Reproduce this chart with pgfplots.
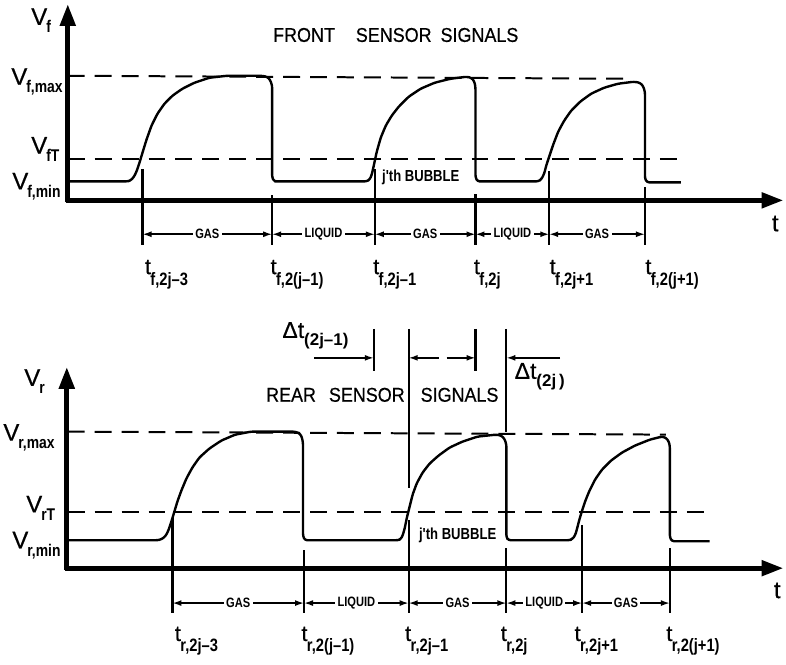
\documentclass[border=0pt]{standalone}
\usepackage{fontspec}
\setmainfont{Liberation Sans}
\newfontfamily\narrowfont{Liberation Sans}[FakeStretch=0.82]
\newfontfamily\heavyfont{Liberation Sans}[FakeBold=0.5]
\newfontfamily\titlefont{Liberation Sans}[FakeStretch=0.9, FakeBold=0.5]
\usepackage{pgfplots}
\pgfplotsset{compat=1.18}
\usetikzlibrary{arrows.meta}

% time-instant label: t with a low, narrow subscript
\newcommand{\tlab}[1]{{\fontsize{11}{10}\heavyfont t}\kern-0.3pt\raisebox{-5.5pt}{\fontsize{9}{9}\narrowfont\bfseries #1}}
% voltage-level label
\newcommand{\vlab}[2]{{\fontsize{12}{11}\heavyfont #1}\kern-0.5pt\raisebox{-4pt}{\fontsize{8.5}{8}\narrowfont\bfseries #2}}
% time-shift label
\newcommand{\dlab}[1]{{\fontsize{11.5}{11}\heavyfont Δt}\raisebox{-4pt}{\fontsize{8.5}{8}\bfseries #1}}

\tikzset{
  sig/.style={black, line width=1.2pt, rounded corners=1.2pt, line join=round},
  lvl/.style={black, line width=1pt, dash pattern=on 8.5pt off 5pt},
  mk/.style={black, line width=1.1pt},
  dim/.style={line width=0.8pt, {Latex[length=4.5pt,width=3pt]}-{Latex[length=4.5pt,width=3pt]}},
  one/.style={line width=0.8pt, -{Latex[length=4.5pt,width=3pt]}},
  seg/.style={midway, fill=white, inner xsep=1.2pt, inner ysep=0.5pt, font=\fontsize{6.8}{6}\narrowfont\bfseries},
  lab/.style={inner sep=0pt, anchor=base west},
  ttl/.style={inner sep=0pt, anchor=base, font=\fontsize{10}{10}\titlefont},
  ax/.style={line width=2.5pt, -{Triangle[length=11pt,width=7.5pt]}},
}

\begin{document}
\begin{tikzpicture}
\begin{axis}[
  x=0.5pt, y=0.5pt,
  xmin=0, xmax=786, ymin=0, ymax=667,
  y dir=reverse,
  scale only axis, hide axis, clip=false,
]
% canvas extent
\addplot[draw=none, no markers] coordinates {(0,0) (786,667)};

% ---------------- front sensor ----------------
\draw[ax] (68,203) -- (68,4);
\draw[ax] (66,201) -- (786,201);

\addplot[lvl, no markers] coordinates {(68,76) (625,79)};
\addplot[lvl, no markers] coordinates {(68,160) (683,160)};

\addplot[sig, no markers] coordinates {
(68,182) (128,182) (131,181) (134,178) (137,172) (140,163) (143,153) (147,140) (152,126) (158,114) (165,104) (173,96) (183,89) (195,83) (210,78) (228,76) (262,76) (268,77) (271,80) (273,86) (273,178) (275,182) (278,182)
(368,182) (371,180) (373,175) (375,166) (378,152) (382,138) (387,126) (393,116) (400,107) (410,97) (422,89) (436,83) (452,79) (468,77) (473,78) (476,82) (477,88) (477,178) (479,182) (483,182)
(540,182) (543,180) (546,174) (548,166) (551,157) (555,145) (560,132) (566,121) (573,111) (582,102) (593,94) (606,88) (620,84) (636,82) (642,83) (645,86) (647,92) (647,179) (649,183) (683,183)
};

\draw[mk] (143,170) -- (143,246);
\draw[mk] (273,196) -- (273,246);
\draw[mk] (376,170) -- (376,246);
\draw[mk] (477,195) -- (477,246);
\draw[mk] (551,172) -- (551,246);
\draw[mk] (647,188) -- (647,246);

\draw[dim] (143,235) -- node[seg]{GAS} (273,235);
\draw[dim] (273,235) -- node[seg]{LIQUID} (376,235);
\draw[dim] (376,235) -- node[seg]{GAS} (477,235);
\draw[dim] (477,235) -- node[seg]{LIQUID} (551,235);
\draw[dim] (551,235) -- node[seg]{GAS} (647,235);

\node[ttl] at (305,42) {FRONT};
\node[ttl] at (395,42) {SENSOR};
\node[ttl] at (481,42) {SIGNALS};
\node[lab, font=\fontsize{8}{7}\narrowfont\bfseries] at (383,182) {j'th BUBBLE};

\node[lab] at (31,25) {\vlab{V}{f}};
\node[lab] at (11,85) {\vlab{V}{f,max}};
\node[lab] at (31,154) {\vlab{V}{fT}};
\node[lab] at (12,190) {\vlab{V}{f,min}};
\node[lab, font=\fontsize{12}{11}\heavyfont] at (774,232) {t};

\node[lab] at (145,275) {\tlab{f,2j–3}};
\node[lab] at (271,275) {\tlab{f,2(j–1)}};
\node[lab] at (374,275) {\tlab{f,2j–1}};
\node[lab] at (475,275) {\tlab{f,2j}};
\node[lab] at (551,275) {\tlab{f,2j+1}};
\node[lab] at (647,275) {\tlab{f,2(j+1)}};

% ---------------- time shifts ----------------
\node[lab] at (283,339) {\dlab{(2j–1)}};
\draw[one] (315,359) -- (375,359);
\draw[mk] (375,330) -- (375,372);
\draw[mk] (410,330) -- (410,490);
\draw[one] (440,359) -- (410,359);
\draw[one] (448,359) -- (477,359);
\draw[mk] (477,330) -- (477,372);
\draw[mk] (508,330) -- (508,433);
\draw[one] (562,359) -- (508,359);
\node[lab] at (516,380) {\dlab{(2j\,)}};

% ---------------- rear sensor ----------------
\draw[ax] (67,572) -- (67,368);
\draw[ax] (65,570) -- (786,570);

\addplot[lvl, no markers] coordinates {(68,433) (668,436)};
\addplot[lvl, no markers] coordinates {(68,514) (706,514)};

\addplot[sig, no markers] coordinates {
(68,542) (158,542) (162,541) (166,538) (169,532) (172,523) (175,513) (178,503) (182,492) (187,480) (193,469) (200,459) (210,450) (222,442) (236,436) (252,433) (296,433) (301,435) (303,439) (304,445) (304,538) (306,542) (310,542)
(399,542) (402,541) (404,537) (406,530) (408,520) (411,508) (414,496) (418,485) (424,474) (431,465) (440,457) (451,449) (464,443) (479,438) (498,436) (503,437) (506,440) (508,446) (508,539) (510,542) (514,542)
(571,542) (574,541) (577,537) (579,530) (581,522) (584,512) (587,503) (591,493) (597,481) (604,471) (613,462) (624,454) (637,447) (652,441) (664,438) (668,439) (671,443) (672,448) (672,539) (674,543) (712,543)
};

\draw[mk] (173,520) -- (173,615);
\draw[mk] (305,552) -- (305,615);
\draw[mk] (410,522) -- (410,615);
\draw[mk] (508,550) -- (508,615);
\draw[mk] (584,527) -- (584,615);
\draw[mk] (672,550) -- (672,615);

\draw[dim] (173,605) -- node[seg]{GAS} (305,605);
\draw[dim] (305,605) -- node[seg]{LIQUID} (410,605);
\draw[dim] (410,605) -- node[seg]{GAS} (508,605);
\draw[dim] (508,605) -- node[seg]{LIQUID} (584,605);
\draw[dim] (584,605) -- node[seg]{GAS} (672,605);

\node[ttl] at (292,403) {REAR};
\node[ttl] at (368,403) {SENSOR};
\node[ttl] at (461,403) {SIGNALS};
\node[lab, font=\fontsize{8}{7}\narrowfont\bfseries] at (420,541) {j'th BUBBLE};

\node[lab] at (24,387) {\vlab{V}{r}};
\node[lab] at (3,442) {\vlab{V}{r,max}};
\node[lab] at (26,514) {\vlab{V}{rT}};
\node[lab] at (12,550) {\vlab{V}{r,min}};
\node[lab, font=\fontsize{12}{11}\heavyfont] at (776,600) {t};

\node[lab] at (175,643) {\tlab{r,2j–3}};
\node[lab] at (302,643) {\tlab{r,2(j–1)}};
\node[lab] at (406,643) {\tlab{r,2j–1}};
\node[lab] at (502,643) {\tlab{r,2j}};
\node[lab] at (576,643) {\tlab{r,2j+1}};
\node[lab] at (668,643) {\tlab{r,2(j+1)}};
\end{axis}
\end{tikzpicture}
\end{document}
